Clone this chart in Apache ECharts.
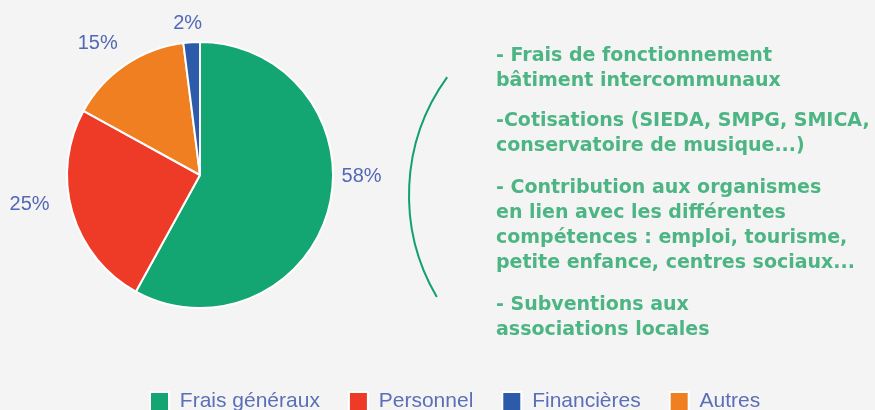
<!DOCTYPE html>
<html>
<head>
<meta charset="utf-8">
<script src="https://cdn.jsdelivr.net/npm/echarts@6/dist/echarts.min.js"></script>
<style>
  html, body { margin: 0; padding: 0; background: #f4f4f4; }
  #ChartPie { width: 875px; height: 410px; }
</style>
</head>
<body>
<div id="ChartPie"></div>
<script>
// données du graphique
var categories = ['Frais généraux', 'Personnel', 'Autres', 'Financières'];
var values = [58, 25, 15, 2];
var colors = ['#13a572', '#ee3b28', '#f07f22', '#2c5ca9'];
var legendOrder = ['Frais généraux', 'Personnel', 'Financières', 'Autres'];

// texte explicatif à droite
var notes = [
  '- Frais de fonctionnement\nbâtiment intercommunaux',
  '-Cotisations (SIEDA, SMPG, SMICA,\nconservatoire de musique...)',
  '- Contribution aux organismes\nen lien avec les différentes\ncompétences : emploi, tourisme,\npetite enfance, centres sociaux...',
  '- Subventions aux\nassociations locales'
];
var notesTop = [44, 109, 176, 293];

// petits décalages des étiquettes (comme dans l'original)
var labelShift = [[0, -34], [-10, -10], [2, -15], [16, -11]];

function ShowPie() {
  var pieChart = echarts.init(document.getElementById('ChartPie'));

  var seriesData = [];
  for (var i = 0; i < categories.length; i++) {
    seriesData.push({ name: categories[i], value: values[i], itemStyle: { color: colors[i] } });
  }

  var graphics = [
    {
      type: 'arc',
      shape: { cx: 610, cy: 195, r: 201, startAngle: 149.5 * Math.PI / 180, endAngle: 215.9 * Math.PI / 180, clockwise: true },
      style: { stroke: '#13a070', lineWidth: 2, fill: null }
    }
  ];
  for (var j = 0; j < notes.length; j++) {
    graphics.push({
      type: 'text',
      x: 496,
      y: notesTop[j],
      style: {
        text: notes[j],
        font: 'bold 19px "DejaVu Sans"',
        fill: '#4db584',
        lineHeight: 25
      }
    });
  }

  var pieoption = {
    backgroundColor: '#f4f4f4',
    animation: false,
    legend: {
      data: legendOrder,
      bottom: -2,
      left: 149,
      padding: 0,
      icon: 'rect',
      itemWidth: 19,
      itemHeight: 19,
      itemGap: 28,
      formatter: ' {name}',
      textStyle: { color: '#5a6fb8', fontSize: 21, fontFamily: 'Liberation Sans' }
    },
    graphic: graphics,
    series: [
      {
        type: 'pie',
        center: [200, 175],
        radius: 133,
        startAngle: 90,
        clockwise: true,
        itemStyle: { borderColor: '#ffffff', borderWidth: 2 },
        label: {
          show: true,
          position: 'outside',
          formatter: '{c}%',
          color: '#5468b5',
          fontSize: 20,
          fontFamily: 'Liberation Sans'
        },
        labelLine: { show: false, length: 8, length2: 0 },
        labelLayout: function (params) {
          var s = labelShift[params.dataIndex];
          return { dx: s[0], dy: s[1] };
        },
        data: seriesData
      }
    ]
  };

  pieChart.setOption(pieoption);
}

ShowPie();
</script>
</body>
</html>
